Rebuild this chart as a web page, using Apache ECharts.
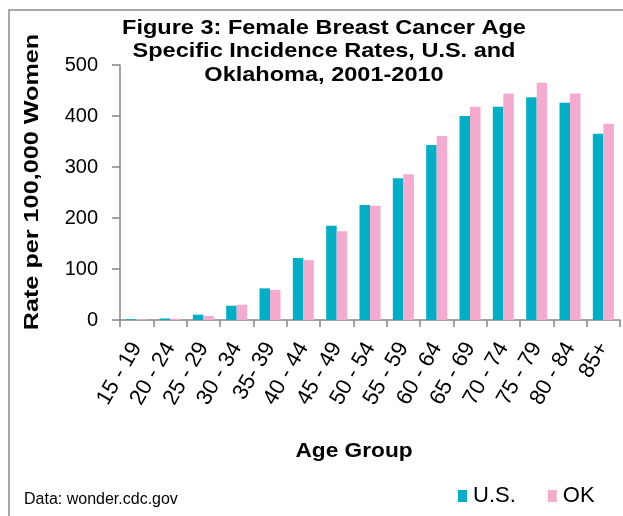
<!DOCTYPE html>
<html>
<head>
<meta charset="utf-8">
<script src="https://cdn.jsdelivr.net/npm/echarts@6/dist/echarts.min.js"></script>
<style>
  html, body { margin: 0; padding: 0; background: #fff; }
  #main { width: 623px; height: 516px; }
</style>
</head>
<body>
<div id="main"></div>
<script>
  // age groups and rates per 100,000 women
  var ageGroups = ['15 - 19', '20 - 24', '25 - 29', '30 - 34', '35- 39', '40 - 44', '45 - 49', '50 - 54', '55 - 59', '60 - 64', '65 - 69', '70 - 74', '75 - 79', '80 - 84', '85+']
  var usRates = [1.5, 3, 10.5, 28, 62, 121.5, 185, 225.5, 278, 343, 400, 418, 437, 426, 365]
  var okRates = [1.5, 2.5, 8, 30, 59, 117.5, 174, 224, 286, 361, 418, 444, 465, 444, 385]
  var yTicks = [0, 100, 200, 300, 400, 500]

  var font = 'Liberation Sans, Arial, sans-serif'
  var chart = echarts.init(document.getElementById('main'))
  chart.setOption({
    animation: false,
    textStyle: { fontFamily: font },
    graphic: [
      {
        type: 'rect',
        shape: { x: 9, y: 10, width: 700, height: 600 },
        style: { fill: 'none', stroke: '#8c8c8c', lineWidth: 1.5 },
        silent: true
      },
      {
        // title, a little wider than the font's natural width like the original
        type: 'text',
        x: 324,
        y: 16,
        scaleX: 1.12,
        style: {
          text: 'Figure 3: Female Breast Cancer Age\nSpecific Incidence Rates, U.S. and\nOklahoma, 2001-2010',
          fontSize: 21,
          fontWeight: 'bold',
          lineHeight: 23.5,
          align: 'center',
          fill: '#000',
          fontFamily: font
        }
      },
      {
        // y axis title
        type: 'text',
        x: 32,
        y: 182,
        rotation: Math.PI / 2,
        scaleX: 1.2,
        style: {
          text: 'Rate per 100,000 Women',
          fontSize: 21,
          fontWeight: 'bold',
          align: 'center',
          verticalAlign: 'middle',
          fill: '#000',
          fontFamily: font
        }
      },
      {
        type: 'text',
        x: 354,
        y: 451,
        scaleX: 1.08,
        style: {
          text: 'Age Group',
          fontSize: 21,
          fontWeight: 'bold',
          align: 'center',
          verticalAlign: 'middle',
          fill: '#000',
          fontFamily: font
        }
      },
      {
        type: 'text',
        left: 24,
        top: 492,
        style: { text: 'Data: wonder.cdc.gov', fontSize: 16, fill: '#000', fontFamily: font }
      }
    ],
    legend: {
      data: ['U.S.', 'OK'],
      left: 453,
      top: 480,
      itemWidth: 9,
      itemHeight: 12,
      itemGap: 32,
      icon: 'rect',
      textStyle: { fontSize: 22, color: '#000', padding: [0, 0, 0, 1] }
    },
    grid: {
      left: 120,
      right: 3,
      top: 65,
      bottom: 196
    },
    xAxis: {
      type: 'category',
      data: ageGroups,
      axisLine: { lineStyle: { color: '#868686', width: 1.5 } },
      axisTick: { show: true, length: 7, lineStyle: { color: '#868686', width: 1.5 } },
      axisLabel: { rotate: 60, fontSize: 22, color: '#000', margin: 24, interval: 0 }
    },
    yAxis: {
      type: 'value',
      min: yTicks[0],
      max: yTicks[yTicks.length - 1],
      interval: 100,
      axisLine: { show: true, lineStyle: { color: '#868686', width: 1.5 } },
      axisTick: { show: true, length: 8, lineStyle: { color: '#868686', width: 1.5 } },
      axisLabel: { fontSize: 20, color: '#000', margin: 22 },
      splitLine: { show: false }
    },
    series: [
      {
        name: 'U.S.',
        type: 'bar',
        data: usRates,
        barGap: '0%',
        barCategoryGap: '37%',
        itemStyle: { color: '#00AFC5' }
      },
      {
        name: 'OK',
        type: 'bar',
        data: okRates,
        itemStyle: { color: '#F5ABCD' }
      }
    ]
  })
</script>
</body>
</html>
